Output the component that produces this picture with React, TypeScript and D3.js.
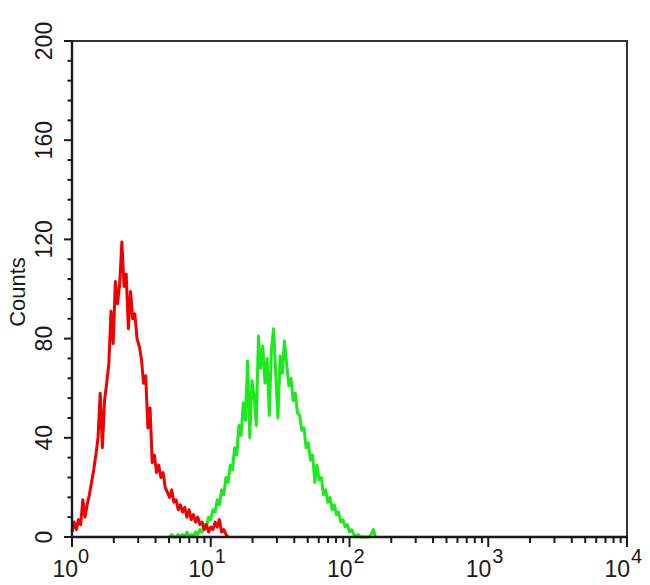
import React from "react";
import * as d3 from "d3";

// Flow cytometry histogram: 1024 channels over 4 log decades (256 channels / decade)
const CHANNELS_PER_DECADE = 256;
const BIN_STEP = 4;

const redStartChannel = 0;
const redCounts = [
  2, 6, 3, 7, 5, 15, 8, 13, 17, 22, 27, 33, 40, 58, 36, 55, 62, 70, 91, 78,
  103, 94, 102, 119, 101, 106, 84, 99, 88, 90, 80, 77, 72, 62, 65, 44, 52, 30, 33, 26,
  29, 24, 26, 20, 18, 16, 19, 14, 15, 11, 13, 10, 12, 8, 11, 7, 9, 6, 8, 5,
  6, 3, 5, 2, 4, 3, 6, 4, 7, 2, 3, 1, 0,
];

const greenStartChannel = 180;
const greenCounts = [
  0, 1, 0, 0, 1, 0, 1, 0, 2, 0, 1, 0, 2, 1, 3, 2, 5, 4, 8, 7,
  11, 10, 15, 13, 19, 17, 24, 22, 29, 27, 36, 33, 45, 41, 54, 47, 71, 40, 63, 57,
  45, 81, 68, 77, 62, 72, 49, 76, 84, 65, 48, 73, 66, 79, 70, 61, 64, 55, 58, 50,
  49, 43, 44, 36, 38, 31, 33, 22, 29, 23, 24, 17, 19, 14, 16, 11, 13, 9, 10, 6,
  7, 4, 5, 2, 3, 1, 0, 1, 0, 0, 0, 0, 0, 1, 3, 0,
];

const yMajorTicks = [0, 40, 80, 120, 160, 200];
const xDecades = [1, 10, 100, 1000, 10000];
const xExponents = ["0", "1", "2", "3", "4"];
const yLabel = "Counts";

const W = 650;
const H = 585;
const left = 72;
const right = 627;
const top = 41;
const bottom = 537;

export default function App() {
  const x = d3.scaleLog().domain([1, 10000]).range([left, right]);
  const y = d3.scaleLinear().domain([0, 200]).range([bottom, top]);

  const toPoints = (start: number, counts: number[]) =>
    counts.map((c, i) => ({
      v: Math.pow(10, (start + i * BIN_STEP) / CHANNELS_PER_DECADE),
      c,
    }));

  const line = d3
    .line<{ v: number; c: number }>()
    .x((d) => x(d.v))
    .y((d) => y(d.c))
    .curve(d3.curveLinear);

  const redPath = line(toPoints(redStartChannel, redCounts)) || "";
  const greenPath = line(toPoints(greenStartChannel, greenCounts)) || "";

  const yMinor = d3.range(0, 201, 8).filter((v) => v % 40 !== 0);
  const xMinor: number[] = [];
  for (let d = 0; d < 4; d++) {
    for (let k = 2; k <= 9; k++) xMinor.push(k * Math.pow(10, d));
  }

  const font = "'Liberation Sans', Arial, sans-serif";
  const ink = "#1a1a1a";

  return (
    <svg
      width={W}
      height={H}
      style={{ position: "absolute", left: 0, top: 0, background: "#fff" }}
    >
      <rect x={0} y={0} width={W} height={H} fill="#fff" />
      {/* data */}
      <path d={greenPath} fill="none" stroke="#1ee81e" strokeWidth={3} strokeLinejoin="round" />
      <path d={redPath} fill="none" stroke="#f00000" strokeWidth={3} strokeLinejoin="round" />

      {/* frame */}
      <path
        d={`M${left},${top} H${right} V${bottom}`}
        fill="none"
        stroke="#333"
        strokeWidth={2}
      />
      <line x1={left} x2={left} y1={top - 1} y2={bottom + 1} stroke={ink} strokeWidth={2.4} />
      <line x1={left - 1} x2={right + 1} y1={bottom} y2={bottom} stroke={ink} strokeWidth={2.4} />

      {/* y ticks */}
      {yMajorTicks.map((t) => (
        <g key={"ym" + t}>
          <line x1={left - 8} x2={left} y1={y(t)} y2={y(t)} stroke={ink} strokeWidth={2} />
          <text
            transform={`translate(52,${y(t)}) rotate(-90)`}
            textAnchor="middle"
            fontFamily={font}
            fontSize={23}
            fill={ink}
          >
            {t}
          </text>
        </g>
      ))}
      {yMinor.map((t) => (
        <line key={"yn" + t} x1={left - 4.5} x2={left} y1={y(t)} y2={y(t)} stroke={ink} strokeWidth={2} />
      ))}
      <text
        transform={`translate(25,${(top + bottom) / 2 + 3}) rotate(-90)`}
        textAnchor="middle"
        fontFamily={font}
        fontSize={22}
        fill={ink}
      >
        {yLabel}
      </text>

      {/* x ticks */}
      {xMinor.map((t) => (
        <line key={"xn" + t} x1={x(t)} x2={x(t)} y1={bottom} y2={bottom + 6} stroke={ink} strokeWidth={2} />
      ))}
      {xDecades.map((t, i) => (
        <g key={"xm" + t}>
          <line x1={x(t)} x2={x(t)} y1={bottom} y2={bottom + 10} stroke={ink} strokeWidth={2} />
          <text
            x={x(t) + (i === 0 ? 6 : 3)}
            y={577}
            textAnchor="end"
            fontFamily={font}
            fontSize={23}
            fill={ink}
          >
            10
          </text>
          <text
            x={x(t) + (i === 0 ? 6 : 4)}
            y={563}
            textAnchor="start"
            fontFamily={font}
            fontSize={20}
            fill={ink}
          >
            {xExponents[i]}
          </text>
        </g>
      ))}
    </svg>
  );
}
